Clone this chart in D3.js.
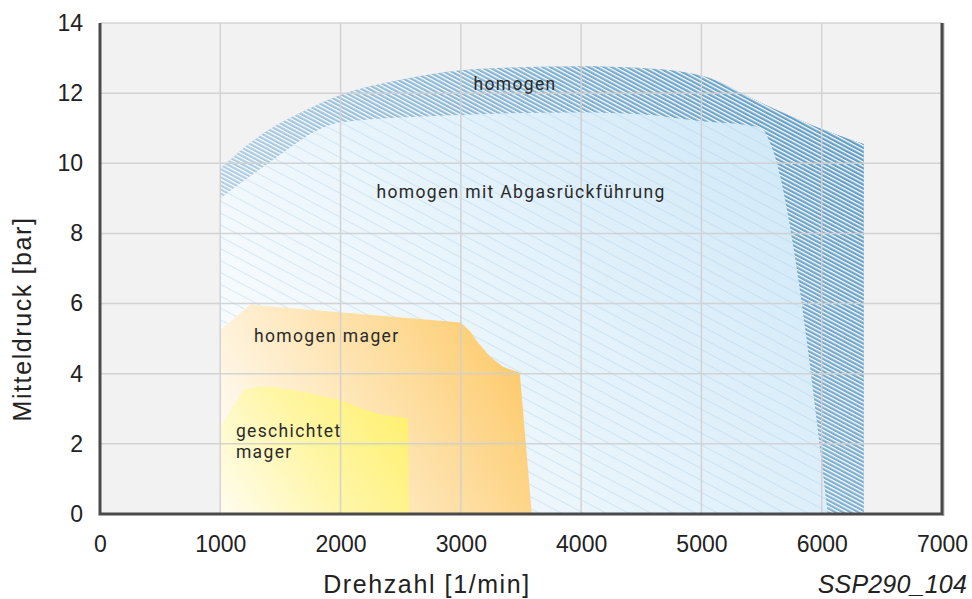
<!DOCTYPE html>
<html>
<head>
<meta charset="utf-8">
<script src="https://cdn.jsdelivr.net/npm/d3@7"></script>
<style>
  body { margin: 0; background: #fff; }
  svg { display: block; }
  .tick text { font-family: "Liberation Sans", Arial, sans-serif; font-size: 23px; fill: #222; }
  .title { font-family: "Liberation Sans", Arial, sans-serif; font-size: 25px; fill: #222; letter-spacing: 1.6px; }
  .zone { font-family: Roboto, "Liberation Sans", sans-serif; font-size: 17.5px; fill: #2a2a2a; letter-spacing: 1.35px; }
</style>
</head>
<body>
<div id="chart"></div>
<script>
// axis ticks
const xTicks = [0, 1000, 2000, 3000, 4000, 5000, 6000, 7000];
const yTicks = [0, 2, 4, 6, 8, 10, 12, 14];

// region outlines, [Drehzahl 1/min, Mitteldruck bar]
const homogenTop = [[1000, 9.85], [1200, 10.45], [1400, 10.95], [1700, 11.5], [2000, 11.95],
  [2500, 12.38], [3000, 12.65], [3500, 12.74], [4000, 12.77], [4500, 12.72], [5000, 12.5],
  [5500, 11.72], [6000, 10.98], [6350, 10.55]];
const agrTop = [[1000, 9.0], [1400, 10.0], [1900, 11.08], [2000, 11.17], [3000, 11.38],
  [4000, 11.45], [4500, 11.4], [5000, 11.2], [5400, 11.08], [5500, 11.0], [5580, 10.5], [6050, 0]];
const magerTop = [[1000, 5.25], [1250, 5.97], [3000, 5.46], [3080, 5.2], [3140, 4.9],
  [3240, 4.5], [3350, 4.2], [3490, 4.03], [3590, 0]];
const geschichtetTop = [[1000, 2.48], [1200, 3.55], [1300, 3.63], [1450, 3.62], [1700, 3.48],
  [2000, 3.25], [2200, 2.98], [2350, 2.82], [2560, 2.74], [2570, 0]];

// labels, placed at [rpm, bar]
const zoneLabels = [
  { text: 'homogen', at: [3450, 12.09], anchor: 'middle' },
  { text: 'homogen mit Abgasrückführung', at: [3500, 9.01], anchor: 'middle' },
  { text: 'homogen mager', at: [1280, 4.9], anchor: 'start' },
  { text: 'geschichtet', at: [1130, 2.2], anchor: 'start' },
  { text: 'mager', at: [1130, 1.6], anchor: 'start' },
];

const width = 972, height = 599;
const margin = { top: 23, right: 30, bottom: 85, left: 100 };

const x = d3.scaleLinear().domain([0, 7000]).range([margin.left, width - margin.right]);
const y = d3.scaleLinear().domain([0, 14]).range([height - margin.bottom, margin.top]);

const svg = d3.select('#chart').append('svg')
  .attr('width', width)
  .attr('height', height);

const defs = svg.append('defs');

function gradient(id, from, to, stops) {
  const g = defs.append('linearGradient')
    .attr('id', id)
    .attr('gradientUnits', 'userSpaceOnUse')
    .attr('x1', x(from[0])).attr('y1', y(from[1]))
    .attr('x2', x(to[0])).attr('y2', y(to[1]));
  stops.forEach(([o, c]) => g.append('stop').attr('offset', o).attr('stop-color', c));
}

gradient('gOuter', [1000, 0], [6300, 12.5], [[0, '#d0e1ee'], [0.45, '#98c0db'], [1, '#5b99c2']]);
gradient('gInner', [1000, 0], [5600, 11], [[0, '#ffffff'], [1, '#d1e9f8']]);
gradient('gMager', [1000, 0.5], [3500, 5.2], [[0, '#ffffff'], [0.55, '#fee2ac'], [1, '#fdc866']]);
gradient('gGesch', [1000, 0], [2500, 3.3], [[0, '#fffdf0'], [0.5, '#fff6a8'], [1, '#fff06e']]);

// white gaps across the outer band
defs.append('pattern')
  .attr('id', 'pOuter')
  .attr('patternUnits', 'userSpaceOnUse')
  .attr('width', 10).attr('height', 3.6)
  .attr('patternTransform', 'rotate(28)')
  .append('rect')
  .attr('width', 10).attr('height', 1.3)
  .attr('fill', '#fff');

// thin lines over the inner area
defs.append('pattern')
  .attr('id', 'pInner')
  .attr('patternUnits', 'userSpaceOnUse')
  .attr('width', 20).attr('height', 10.5)
  .attr('patternTransform', 'rotate(28)')
  .append('rect')
  .attr('width', 20).attr('height', 1)
  .attr('fill', '#a9cde6')
  .attr('opacity', 0.4);

// plot background
svg.append('rect')
  .attr('x', x(0)).attr('y', y(14))
  .attr('width', x(7000) - x(0)).attr('height', y(0) - y(14))
  .attr('fill', '#f2f2f2');

const line = d3.line().x((d) => x(d[0])).y((d) => y(d[1]));
const smooth = d3.line().x((d) => x(d[0])).y((d) => y(d[1])).curve(d3.curveMonotoneX);

function closedArea(top) {
  const first = top[0], last = top[top.length - 1];
  const pts = [[first[0], 0]].concat(top);
  if (last[1] !== 0) pts.push([last[0], 0]);
  return line(pts) + 'Z';
}

const outerEnd = homogenTop[homogenTop.length - 1][0];
const outerPath = smooth(homogenTop) + `L${x(outerEnd)},${y(0)}L${x(homogenTop[0][0])},${y(0)}Z`;
svg.append('path').attr('d', outerPath).attr('fill', 'url(#gOuter)');
svg.append('path').attr('d', outerPath).attr('fill', 'url(#pOuter)');

const innerPath = smooth(agrTop) + `L${x(agrTop[0][0])},${y(0)}Z`;
svg.append('path').attr('d', innerPath).attr('fill', 'url(#gInner)');
svg.append('path').attr('d', innerPath).attr('fill', 'url(#pInner)');

svg.append('path').attr('d', closedArea(magerTop)).attr('fill', 'url(#gMager)');
svg.append('path').attr('d', closedArea(geschichtetTop)).attr('fill', 'url(#gGesch)');

// grid on top of the regions
const grid = svg.append('g').attr('stroke', '#d0d0d0').attr('stroke-width', 1.5).attr('opacity', 0.9);
grid.selectAll('.gx').data(xTicks.slice(1, -1)).enter().append('line')
  .attr('x1', (d) => x(d)).attr('x2', (d) => x(d))
  .attr('y1', y(0)).attr('y2', y(14));
grid.selectAll('.gy').data(yTicks.slice(1)).enter().append('line')
  .attr('x1', x(0)).attr('x2', x(7000))
  .attr('y1', (d) => y(d)).attr('y2', (d) => y(d));

// frame
svg.append('line').attr('x1', x(7000) + 1.5).attr('x2', x(7000) + 1.5)
  .attr('y1', y(14)).attr('y2', y(0) + 2)
  .attr('stroke', '#bbb').attr('stroke-width', 2);
svg.append('path')
  .attr('d', `M${x(0)},${y(14)}V${y(0)}H${x(7000)}V${y(14)}`)
  .attr('fill', 'none').attr('stroke', '#4a4a4a').attr('stroke-width', 3);

// axes (labels only)
svg.append('g')
  .attr('transform', `translate(0,${y(0)})`)
  .call(d3.axisBottom(x).tickValues(xTicks).tickFormat(d3.format('d')).tickSize(0).tickPadding(22))
  .call((g) => g.select('.domain').remove());
svg.append('g')
  .attr('transform', `translate(${x(0)},0)`)
  .call(d3.axisLeft(y).tickValues(yTicks).tickSize(0).tickPadding(17))
  .call((g) => g.select('.domain').remove());
svg.selectAll('.tick text').attr('font-family', null).attr('font-size', null).attr('fill', null);

svg.append('text').attr('class', 'title')
  .attr('x', 427).attr('y', 593)
  .attr('text-anchor', 'middle')
  .text('Drehzahl [1/min]');
svg.append('text').attr('class', 'title')
  .attr('transform', 'translate(31,319) rotate(-90)')
  .attr('text-anchor', 'middle')
  .text('Mitteldruck [bar]');
svg.append('text').attr('class', 'title')
  .attr('x', 967).attr('y', 593)
  .attr('text-anchor', 'end')
  .style('font-style', 'italic')
  .style('letter-spacing', '0.2px')
  .text('SSP290_104');

svg.selectAll('.zone').data(zoneLabels).enter().append('text')
  .attr('class', 'zone')
  .attr('x', (d) => x(d.at[0])).attr('y', (d) => y(d.at[1]))
  .attr('text-anchor', (d) => d.anchor)
  .text((d) => d.text);
</script>
</body>
</html>
